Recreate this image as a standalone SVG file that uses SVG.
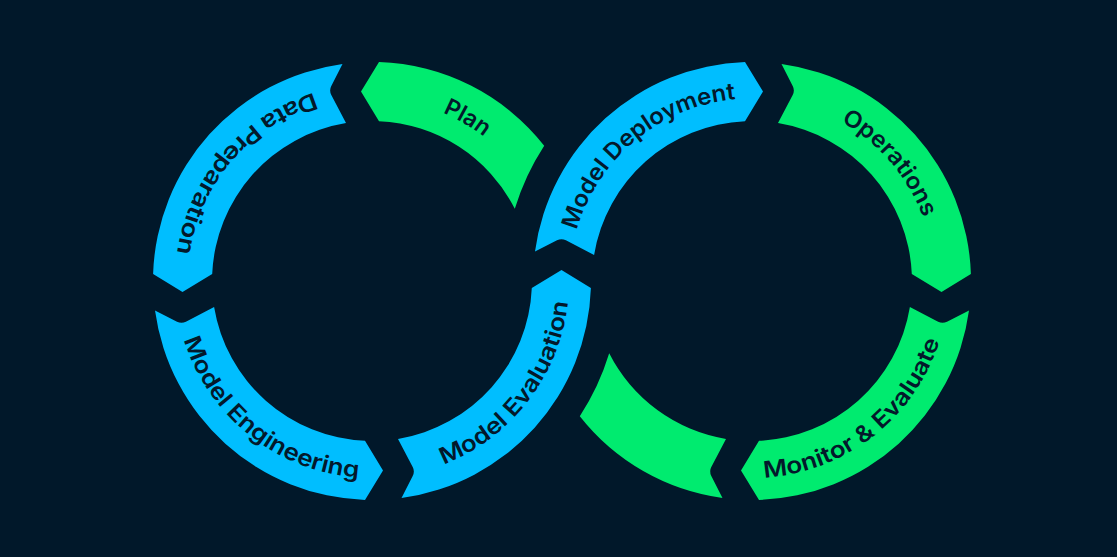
<svg xmlns="http://www.w3.org/2000/svg" xmlns:xlink="http://www.w3.org/1999/xlink" width="1117" height="557" viewBox="0 0 1117 557">
  <style>
    .bg { fill: #01182A; }
    .blue { fill: #00BEFF; }
    .green { fill: #00EB6F; }
    .lbl { font-family: "Inter", "Open Sans", "Liberation Sans", sans-serif; font-size: 23px; font-weight: 600; fill: #03192B; }
  </style>
  <defs>
    <path id="tp-plan" d="M372.96,98.5 A182.5,182.5 0 0 1 530.53,190.58"/>
    <path id="tp-dataprep" d="M373.72,84.01 A197,197 0 0 0 177.70,313.51"/>
    <path id="tp-modeleng" d="M175.09,286.84 A197,197 0 0 0 411.95,473.91"/>
    <path id="tp-modeleval" d="M380.94,477.8 A197,197 0 0 0 564.26,238.03"/>
    <path id="tp-modeldeploy" d="M569.51,279.41 A182.5,182.5 0 0 1 785.26,101.56"/>
    <path id="tp-operations" d="M781.81,100.95 A182.5,182.5 0 0 1 934.49,279.09"/>
    <path id="tp-monitor" d="M710.7,473.62 A197,197 0 0 0 948.87,288.22"/>
  </defs>
  <rect class="bg" x="0" y="0" width="1117" height="557"/>

  <g id="node-plan">
    <path class="green" d="M544.2,145.7 A219,219 0 0 0 379,62.1 L361,91.5 L379,121.2 A160,160 0 0 1 514.8,208.8 A248,248 0 0 1 544.2,145.7 Z"/>
    <text class="lbl" text-anchor="middle"><textPath href="#tp-plan" xlink:href="#tp-plan" startOffset="50%" textLength="48" lengthAdjust="spacingAndGlyphs">Plan</textPath></text>
  </g>

  <g id="node-data-preparation">
    <path class="blue" d="M342.5,64 A219,219 0 0 0 153.1,274 L182.5,292 L212.2,274 A160,160 0 0 1 346,123.1 L331.3,94.9 Q329,90.5 331.3,86 Z"/>
    <text class="lbl" text-anchor="middle"><textPath href="#tp-dataprep" xlink:href="#tp-dataprep" startOffset="50%" textLength="222" lengthAdjust="spacingAndGlyphs">Data Preparation</textPath></text>
  </g>

  <g id="node-model-engineering">
    <path class="blue" d="M155,310.5 A219,219 0 0 0 365,499.9 L383,470.5 L365,440.8 A160,160 0 0 1 214.1,307 L185.9,321.7 Q181.5,324 177,321.7 Z"/>
    <text class="lbl" text-anchor="middle"><textPath href="#tp-modeleng" xlink:href="#tp-modeleng" startOffset="50%" textLength="236" lengthAdjust="spacingAndGlyphs">Model Engineering</textPath></text>
  </g>

  <g id="node-model-evaluation">
    <path class="blue" d="M401.5,498 A219,219 0 0 0 590.9,288 L561.5,270 L531.8,288 A160,160 0 0 1 398,438.9 L412.7,467.1 Q415,471.5 412.7,476 Z"/>
    <text class="lbl" text-anchor="middle"><textPath href="#tp-modeleval" xlink:href="#tp-modeleval" startOffset="50%" textLength="215" lengthAdjust="spacingAndGlyphs">Model Evaluation</textPath></text>
  </g>

  <g id="node-model-deployment">
    <path class="blue" d="M535,251.5 A219,219 0 0 1 745,62.1 L763,91.5 L745,121.2 A160,160 0 0 0 594.1,255 L565.9,240.3 Q561.5,238 557,240.3 Z"/>
    <text class="lbl" text-anchor="middle"><textPath href="#tp-modeldeploy" xlink:href="#tp-modeldeploy" startOffset="50%" textLength="219" lengthAdjust="spacingAndGlyphs">Model Deployment</textPath></text>
  </g>

  <g id="node-operations">
    <path class="green" d="M781.5,64 A219,219 0 0 1 970.9,274 L941.5,292 L911.8,274 A160,160 0 0 0 778,123.1 L792.7,94.9 Q795,90.5 792.7,86 Z"/>
    <text class="lbl" text-anchor="middle"><textPath href="#tp-operations" xlink:href="#tp-operations" startOffset="50%" textLength="129" lengthAdjust="spacingAndGlyphs">Operations</textPath></text>
  </g>

  <g id="node-monitor-evaluate">
    <path class="green" d="M969,310.5 A219,219 0 0 1 759,499.9 L741,470.5 L759,440.8 A160,160 0 0 0 909.9,307 L938.1,321.7 Q942.5,324 947,321.7 Z"/>
    <text class="lbl" text-anchor="middle"><textPath href="#tp-monitor" xlink:href="#tp-monitor" startOffset="50%" textLength="236" lengthAdjust="spacingAndGlyphs">Monitor &amp; Evaluate</textPath></text>
  </g>

  <g id="node-return">
    <path class="green" d="M722.5,498 A219,219 0 0 1 579.8,416.3 A248,248 0 0 0 609.2,353.3 A160,160 0 0 0 726,438.9 L711.3,467.1 Q709,471.5 711.3,476 Z"/>
  </g>

  <g id="connectors"/>
</svg>
